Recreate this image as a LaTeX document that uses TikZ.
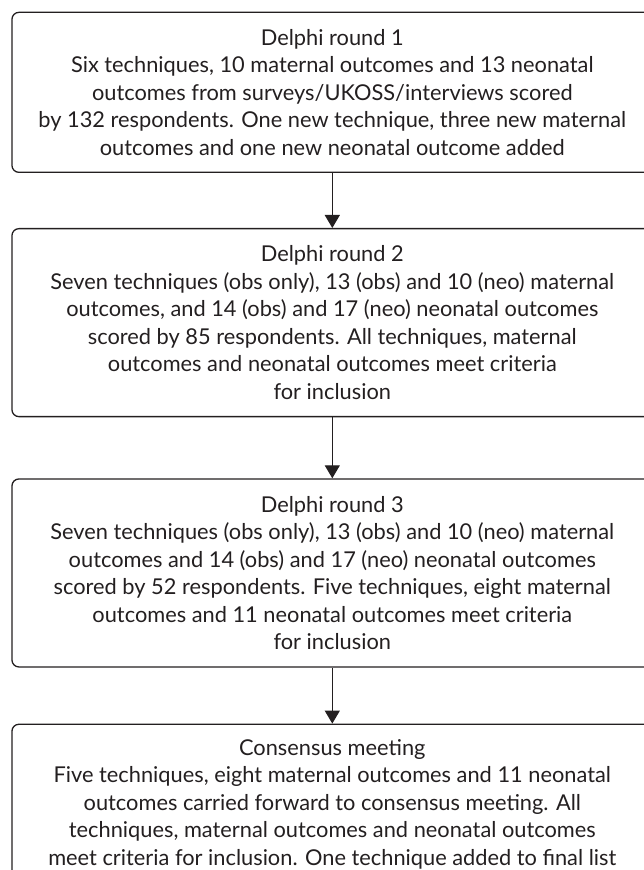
\documentclass[tikz,border=0pt]{standalone}
\usepackage{fontspec}
\setmainfont{Lato}
\usepackage{xcolor}
\usetikzlibrary{arrows.meta, positioning}
\definecolor{darkText}{RGB}{35,31,32}
\tikzset{
    roundbox/.style={
        rectangle,
        draw=darkText,
        line width=0.65pt,
        rounded corners=3.5pt,
        align=center,
        text=darkText,
        minimum width=320.35pt,
        inner sep=0pt,
        font=\fontsize{10.9}{13.75}\selectfont
    },
    flowarrow/.style={-{Triangle[width=7.5pt, length=6.5pt]}, line width=0.65pt, draw=darkText}
}

\begin{document}
\begin{tikzpicture}
    \useasboundingbox (0,0) rectangle (321.5pt,-435pt);
    \node[roundbox, anchor=north west, minimum height=80pt] (round1) at (5.65pt,-5.85pt) {Delphi round 1\\
        Six techniques, 10 maternal outcomes and 13 neonatal\\
        outcomes from surveys/UKOSS/interviews scored\\
        by 132 respondents. One new technique, three new maternal\\
        outcomes and one new neonatal outcome added};
    \node[roundbox, below=27.5pt of round1, minimum height=94pt] (round2) {Delphi round 2\\
        Seven techniques (obs only), 13 (obs) and 10 (neo) maternal\\
        outcomes, and 14 (obs) and 17 (neo) neonatal outcomes\\
        scored by 85 respondents. All techniques, maternal\\
        outcomes and neonatal outcomes meet criteria\\
        for inclusion};
    \node[roundbox, below=30.5pt of round2, minimum height=94pt] (round3) {Delphi round 3\\
        Seven techniques (obs only), 13 (obs) and 10 (neo) maternal\\
        outcomes and 14 (obs) and 17 (neo) neonatal outcomes\\
        scored by 52 respondents. Five techniques, eight maternal\\
        outcomes and 11 neonatal outcomes meet criteria\\
        for inclusion};
    \node[roundbox, below=28pt of round3, minimum height=80pt] (consensus) {Consensus meeting\\
        Five techniques, eight maternal outcomes and 11 neonatal\\
        outcomes carried forward to consensus meeting. All\\
        techniques, maternal outcomes and neonatal outcomes\\
        meet criteria for inclusion. One technique added to final list};
    \draw[flowarrow] (round1) -- (round2);
    \draw[flowarrow] (round2) -- (round3);
    \draw[flowarrow] (round3) -- (consensus);
\end{tikzpicture}
\end{document}
